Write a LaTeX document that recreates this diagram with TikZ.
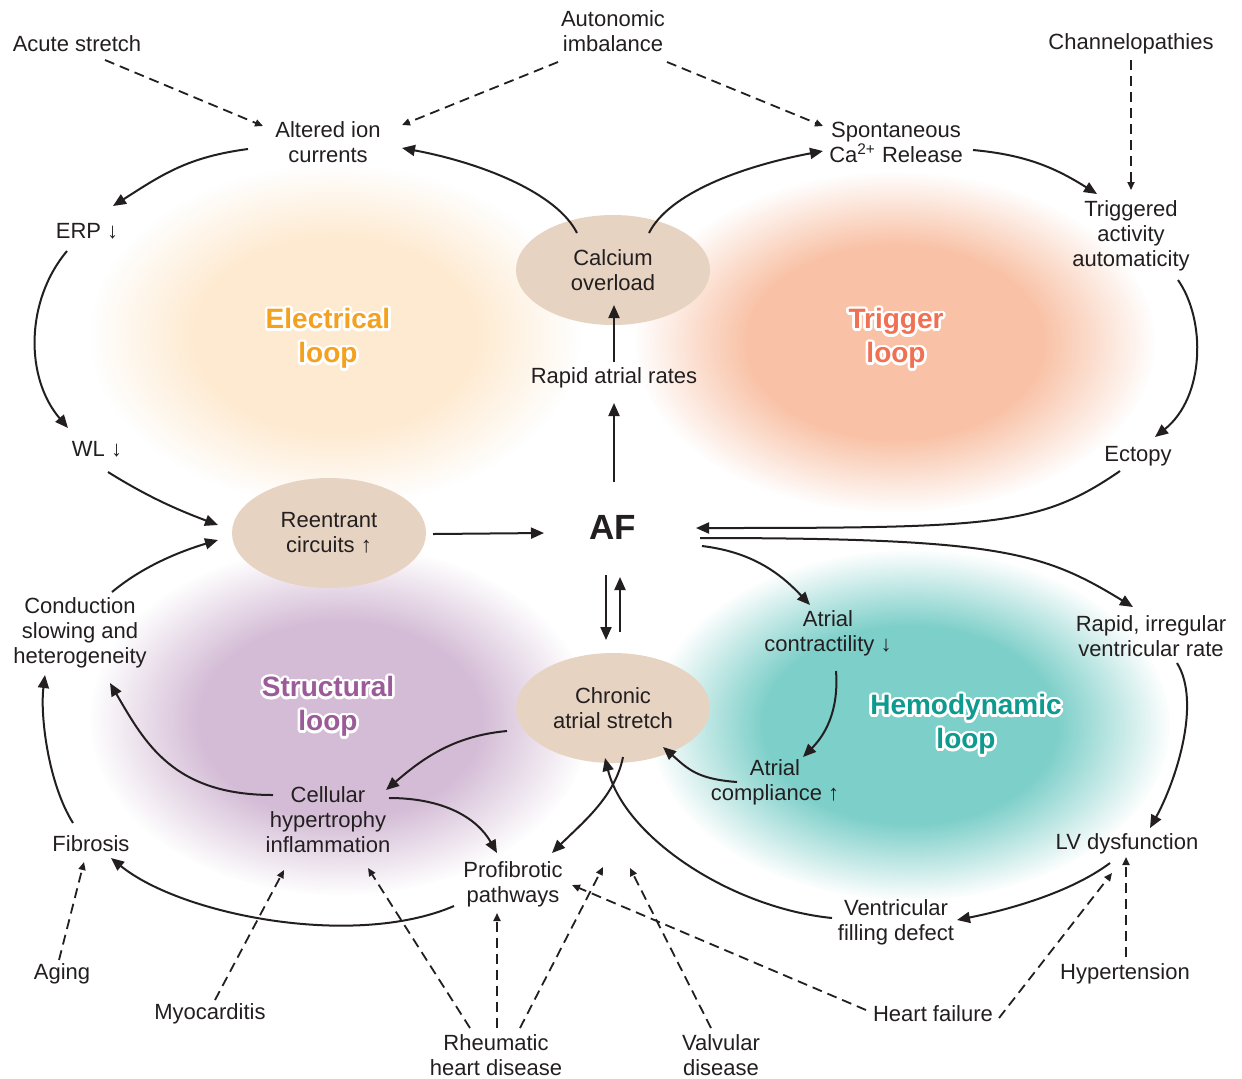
\documentclass[tikz,border=0pt]{standalone}
\usepackage{fontspec}
\setmainfont{Liberation Sans}
\usepackage{contour}
\contourlength{1.3pt}
\usetikzlibrary{arrows.meta,shapes.geometric,fadings,calc}

\pgfdeclareradialshading{softblobshade}{\pgfpointorigin}{color(0bp)=(white); color(14bp)=(white); color(25bp)=(black); color(50bp)=(black)}
\pgfdeclarefading{softblob}{\pgfuseshading{softblobshade}}

\definecolor{ebg}{HTML}{FEEAD0}
\definecolor{tbg}{HTML}{F9C1A5}
\definecolor{sbg}{HTML}{D4BCD6}
\definecolor{hbg}{HTML}{7DCFC9}
\definecolor{etx}{HTML}{F4A11F}
\definecolor{ttx}{HTML}{EF7052}
\definecolor{stx}{HTML}{9B5B99}
\definecolor{htx}{HTML}{0E9A8F}
\definecolor{ovalc}{HTML}{E7D3C1}
\definecolor{ink}{HTML}{231F20}

\begin{document}
\begin{tikzpicture}[x=0.5pt,y=-0.5pt,
  lbl/.style={font=\fontsize{11}{12.5}\selectfont, align=center, inner sep=1pt, text=ink},
  ovalnode/.style={ellipse, fill=ovalc, minimum width=97pt, minimum height=55pt, inner sep=0pt,
     font=\fontsize{11}{12.5}\selectfont, align=center, text=ink},
  looplbl/.style={font=\fontsize{14}{17}\selectfont\bfseries, align=center, inner sep=0pt},
  afstyle/.style={font=\fontsize{17.5}{20}\selectfont\bfseries, inner sep=1pt, text=ink},
  arr/.style={-{Triangle[length=6.5pt,width=5.5pt]}, line width=1pt, draw=ink},
  darr/.style={-{Triangle[length=4pt,width=3.5pt]}, line width=0.9pt, dash pattern=on 5pt off 3pt, draw=ink}
]
\useasboundingbox (0,0) rectangle (1242,1078);
\fill[white] (0,0) rectangle (1242,1078);

% background blobs
\fill[ebg, path fading=softblob] (335,335) ellipse (245 and 170);
\fill[tbg, path fading=softblob] (895,342) ellipse (260 and 170);
\fill[sbg, path fading=softblob] (340,720) ellipse (250 and 175);
\fill[hbg, path fading=softblob] (910,725) ellipse (260 and 175);

% loop labels
\node[looplbl, text=etx] (eloop) at (328,340) {\contour{white}{Electrical}\\\contour{white}{loop}};
\node[looplbl, text=ttx] (tloop) at (896,340) {\contour{white}{Trigger}\\\contour{white}{loop}};
\node[looplbl, text=stx] (sloop) at (328,708) {\contour{white}{Structural}\\\contour{white}{loop}};
\node[looplbl, text=htx] (hloop) at (966,726) {\contour{white}{Hemodynamic}\\\contour{white}{loop}};

% ovals
\node[ovalnode] (calnode) at (613,270) {Calcium\\overload};
\node[ovalnode] (reen) at (329,533) {Reentrant\\circuits ↑};
\node[ovalnode] (chron) at (613,708) {Chronic\\atrial stretch};

% text nodes
\node[lbl] (acute) at (77,44) {Acute stretch};
\node[lbl] (autonom) at (613,31) {Autonomic\\imbalance};
\node[lbl] (chan) at (1131,44) {Channelopathies};
\node[lbl] (alt) at (328,142) {Altered ion\\currents};
\node[lbl] (spon) at (896,142) {Spontaneous\\Ca\textsuperscript{2+} Release};
\node[lbl] (erp) at (87,231) {ERP ↓};
\node[lbl] (trig) at (1131,236) {Triggered\\activity\\automaticity};
\node[lbl] (rar) at (614,378) {Rapid atrial rates};
\node[lbl] (wl) at (97,449) {WL ↓};
\node[lbl] (ect) at (1138,456) {Ectopy};
\node[afstyle] (af) at (613,527) {AF};
\node[lbl] (cond) at (80,633) {Conduction\\slowing and\\heterogeneity};
\node[lbl] (acon) at (828,633) {Atrial\\contractility ↓};
\node[lbl] (rirr) at (1151,636) {Rapid, irregular\\ventricular rate};
\node[lbl] (acomp) at (775,782) {Atrial\\compliance ↑};
\node[lbl] (cell) at (328,820) {Cellular\\hypertrophy\\inflammation};
\node[lbl] (fib) at (91,844) {Fibrosis};
\node[lbl] (lv) at (1127,844) {LV dysfunction};
\node[lbl] (prof) at (513,884) {Profibrotic\\pathways};
\node[lbl] (vfd) at (896,922) {Ventricular\\filling defect};
\node[lbl] (aging) at (62,974) {Aging};
\node[lbl] (hyp) at (1125,974) {Hypertension};
\node[lbl] (myo) at (210,1014) {Myocarditis};
\node[lbl] (hf) at (933,1014) {Heart failure};
\node[lbl] (rheu) at (496,1055) {Rheumatic\\heart disease};
\node[lbl] (valv) at (721,1055) {Valvular\\disease};

\coordinate (rtip) at (603,867);
\coordinate (vtip) at (630,868);

% dashed influences (top)
\draw[darr] ($(acute)+(28,16)$) -- ($(alt)+(-65,-16)$);
\draw[darr] ($(autonom)+(-55,31)$) -- ($(alt)+(74,-17)$);
\draw[darr] ($(autonom)+(54,31)$) -- ($(spon)+(-73,-16)$);
\draw[darr] ($(chan)+(0,16)$) -- ($(trig)+(0,-46)$);

% electrical loop
\draw[arr] ($(alt)+(-80,7)$) .. controls +(-60,8) and +(50,-32) .. ($(erp)+(26,-25)$);
\draw[arr] ($(calnode)+(-36,-37)$) .. controls +(-20,-40) and +(80,15) .. ($(alt)+(74,6)$);
\draw[arr] ($(erp)+(-20,20)$) .. controls +(-42,50) and +(-43,-50) .. ($(wl)+(-29,-21)$);
\draw[arr] ($(wl)+(11,23)$) .. controls +(40,25) and +(-40,-15) .. ($(reen)+(-111,-8)$);
\draw[arr] ($(cond)+(32,-41)$) .. controls +(30,-25) and +(-40,12) .. ($(reen)+(-111,7)$);
\draw[arr] ($(reen)+(104,1)$) -- ($(af)+(-69,6)$);

% trigger loop
\draw[arr] ($(calnode)+(36,-37)$) .. controls +(20,-40) and +(-80,15) .. ($(spon)+(-73,9)$);
\draw[arr] ($(spon)+(77,8)$) .. controls +(55,5) and +(-40,-25) .. ($(trig)+(-34,-42)$);
\draw[arr] ($(trig)+(47,44)$) .. controls +(28,40) and +(50,-40) .. ($(ect)+(17,-19)$);
\draw[arr] ($(ect)+(-18,15)$) .. controls +(-80,55) and +(300,0) .. ($(af)+(83,1)$);
\draw[arr] ($(af)+(1,-45)$) -- ($(rar)+(0,25)$);
\draw[arr] ($(rar)+(0,-16)$) -- ($(calnode)+(1,35)$);

% hemodynamic loop
\draw[arr] ($(af)+(87,11)$) .. controls +(300,0) and +(-90,-55) .. ($(rirr)+(-18,-29)$);
\draw[arr] ($(af)+(89,19)$) .. controls +(50,6) and +(-30,-32) .. ($(acon)+(-18,-28)$);
\draw[arr] ($(acon)+(8,38)$) .. controls +(3,40) and +(22,-22) .. ($(acomp)+(28,-25)$);
\draw[arr] ($(acomp)+(-38,0)$) .. controls +(-40,-3) and +(25,22) .. ($(chron)+(50,39)$);
\draw[arr] ($(rirr)+(26,27)$) .. controls +(25,40) and +(25,-45) .. ($(lv)+(23,-16)$);
\draw[arr] ($(lv)+(-17,19)$) .. controls +(-40,30) and +(50,-10) .. ($(vfd)+(61,-2)$);
\draw[arr] ($(vfd)+(-64,-4)$) .. controls +(-100,-10) and +(20,80) .. ($(chron)+(-8,50)$);

% AF <-> chronic stretch
\draw[arr] ($(af)+(-7,48)$) -- ($(chron)+(-7,-68)$);
\draw[arr] ($(chron)+(7,-76)$) -- ($(af)+(7,50)$);

% structural loop
\draw[arr] ($(chron)+(-106,23)$) .. controls +(-55,5) and +(35,-30) .. ($(cell)+(58,-30)$);
\draw[arr] ($(cell)+(-55,-25)$) .. controls +(-100,0) and +(35,60) .. ($(cond)+(30,50)$);
\draw[arr] ($(fib)+(-18,-21)$) .. controls +(-25,-40) and +(-5,40) .. ($(cond)+(-35,42)$);
\draw[arr] ($(cell)+(61,-22)$) .. controls +(55,0) and +(-20,-35) .. ($(prof)+(-16,-31)$);
\draw[arr] ($(chron)+(10,49)$) .. controls +(-8,40) and +(30,-30) .. ($(prof)+(39,-31)$);
\draw[arr] ($(prof)+(-59,22)$) .. controls +(-100,43) and +(70,57) .. ($(fib)+(20,14)$);

% dashed influences (bottom)
\draw[darr] ($(hyp)+(1,-17)$) -- ($(lv)+(-1,13)$);
\draw[darr] ($(hf)+(66,4)$) -- ($(lv)+(-15,29)$);
\draw[darr] ($(hf)+(-67,-4)$) -- ($(prof)+(59,1)$);
\draw[darr] ($(aging)+(-3,-14)$) -- ($(fib)+(-7,18)$);
\draw[darr] ($(myo)+(5,-14)$) -- ($(cell)+(-44,50)$);
\draw[darr] ($(rheu)+(-26,-27)$) -- ($(cell)+(40,48)$);
\draw[darr] ($(rheu)+(1,-27)$) -- ($(prof)+(-16,29)$);
\draw[darr] ($(rheu)+(24,-27)$) -- (rtip);
\draw[darr] ($(valv)+(-10,-27)$) -- (vtip);
\end{tikzpicture}
\end{document}
